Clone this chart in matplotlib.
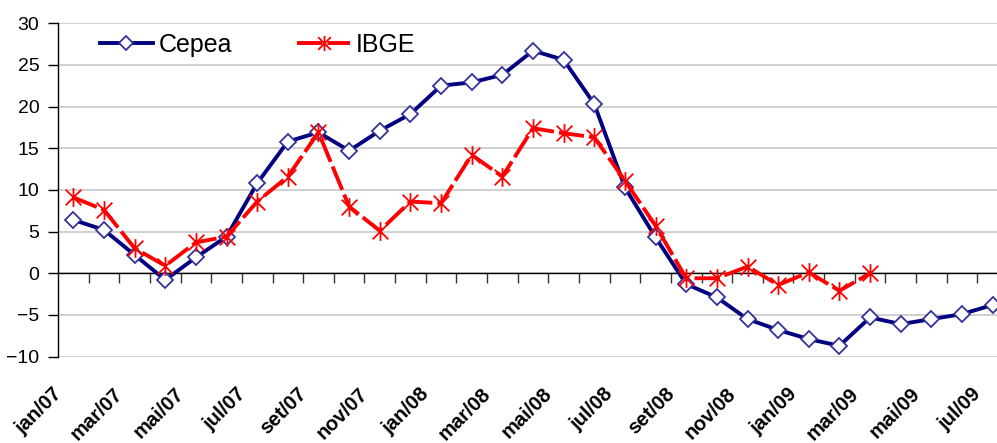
import numpy as np
import matplotlib
matplotlib.use('Agg')
import matplotlib.pyplot as plt
from matplotlib.path import Path
from matplotlib.transforms import ScaledTranslation

plt.rcParams['font.family'] = ['Liberation Sans', 'DejaVu Sans']

meses = ['jan', 'fev', 'mar', 'abr', 'mai', 'jun', 'jul', 'ago', 'set', 'out', 'nov', 'dez']
periodos = [f'{m}/{a:02d}' for a in (7, 8, 9) for m in meses][:31]

cepea = [6.4, 5.2, 2.2, -0.8, 1.9, 4.4, 10.8, 15.8, 16.9, 14.7, 17.1, 19.1,
         22.5, 22.9, 23.8, 26.7, 25.6, 20.3, 10.3, 4.3, -1.3, -2.9, -5.5, -6.8,
         -7.9, -8.7, -5.3, -6.1, -5.5, -4.9, -3.8]
ibge = [9.1, 7.6, 3.0, 0.9, 3.7, 4.4, 8.6, 11.6, 16.9, 8.0, 5.1, 8.6,
        8.4, 14.2, 11.6, 17.4, 16.8, 16.3, 11.1, 5.7, -0.6, -0.6, 0.8, -1.4,
        0.1, -2.1, 0.0]

# marcador estrela do Excel: X com traco vertical
estrela = Path([(-0.5, -0.5), (0.5, 0.5), (-0.5, 0.5), (0.5, -0.5), (0, -0.6), (0, 0.6)],
               [Path.MOVETO, Path.LINETO, Path.MOVETO, Path.LINETO, Path.MOVETO, Path.LINETO])

fig = plt.figure(figsize=(9.97, 4.43), dpi=100)
ax = fig.add_axes([58 / 997, 0.195, 950 / 997, 0.7527])

x_c = np.arange(len(cepea))
x_i = np.arange(len(ibge))

ax.plot(x_c, cepea, color='#000080', lw=2.8, marker='D', ms=8,
        mfc='white', mec='#333399', mew=1.3, label='Cepea', zorder=3)
ax.plot(x_i, ibge, color='red', lw=2.8, ls=(0, (6.5, 1.3)), marker=estrela, ms=13.5,
        mfc='none', mec='red', mew=1.3, label='IBGE', zorder=4)

ax.set_xlim(-0.5, 30.5)
ax.set_ylim(-10, 30)
ax.set_yticks(np.arange(-10, 31, 5))
ax.tick_params(axis='y', direction='out', length=7.5, width=1, pad=6, labelsize=14)
ax.yaxis.grid(True, color='#c4c4c4', lw=1.1)
ax.set_axisbelow(True)

ax.set_xticks(x_c[::2])
ax.set_xticklabels(periodos[::2], rotation=45, ha='right', va='top',
                   fontweight='bold', fontsize=14.5)
ax.tick_params(axis='x', length=0, pad=20)
for lab in ax.get_xticklabels():
    lab.set_transform(lab.get_transform() + ScaledTranslation(-0.08, 0, fig.dpi_scale_trans))

for s in ('top', 'right', 'bottom'):
    ax.spines[s].set_visible(False)
ax.spines['left'].set_linewidth(1)

# eixo das categorias cruzando em zero
zero = ax.secondary_xaxis(0.25)
zero.set_xticks(np.arange(0.5, 30.5, 1))
zero.set_xticklabels([])
zero.tick_params(axis='x', direction='out', length=7, width=1, color='#333333')
zero.spines['bottom'].set_linewidth(1)
zero.spines['top'].set_linewidth(1)
zero.set_zorder(1)

leg = ax.legend(loc='center left', bbox_to_anchor=(100 / 997, 1 - 45 / 443),
                bbox_transform=fig.transFigure, ncol=2, frameon=False,
                fontsize=18, handlelength=2.1, handletextpad=0.25,
                columnspacing=2.6, borderpad=0, borderaxespad=0)
leg.legend_handles[0].set_markersize(7)
leg.legend_handles[1].set_markersize(11)

fig.savefig('out.png', dpi=100)
